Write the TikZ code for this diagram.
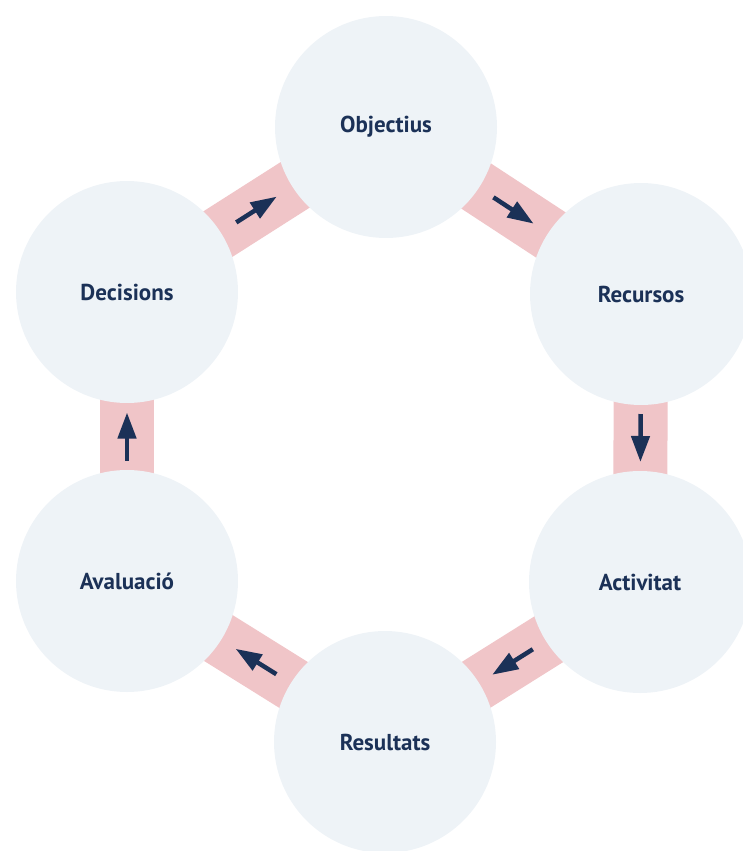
\documentclass[tikz,border=0pt]{standalone}
\usepackage{fontspec}
\setmainfont{PT Sans}
\usetikzlibrary{shapes,arrows.meta,calc,backgrounds}
\definecolor{bubble}{HTML}{EEF3F7}
\definecolor{band}{HTML}{F0C5C8}
\definecolor{navy}{HTML}{1B3157}

\begin{document}
\begin{tikzpicture}[x=1pt,y=-1pt]
    \tikzstyle{stage}=[circle,fill=bubble,minimum size=222pt,inner sep=0pt,text=navy,font=\fontsize{23}{27}\selectfont\bfseries]
    \tikzstyle{link}=[draw=band,line width=54pt]
    \tikzstyle{flow}=[draw=navy,line width=4.5pt,-{Triangle[width=18pt,length=26pt]}]
    \useasboundingbox (0,0) rectangle (743,851);
    \node[stage] (obj) at (386,127) {Objectius};
    \node[stage] (rec) at (641,294) {Recursos};
    \node[stage] (act) at (640,582) {Activitat};
    \node[stage] (res) at (385,742) {Resultats};
    \node[stage] (ava) at (127,581) {Avaluació};
    \node[stage] (dec) at (127,292) {Decisions};
    \begin{pgfonlayer}{background}
      \foreach \a/\b in {dec/obj,obj/rec,rec/act,act/res,res/ava,ava/dec}
        \draw[link] (\a.center) -- (\b.center);
    \end{pgfonlayer}
    \foreach \a/\b in {dec/obj,obj/rec,rec/act,act/res,res/ava,ava/dec}
      \draw[flow] ($(\a)!0.5!(\b)!24pt!(\a)$) -- ($(\a)!0.5!(\b)!24pt!(\b)$);
\end{tikzpicture}
\end{document}
